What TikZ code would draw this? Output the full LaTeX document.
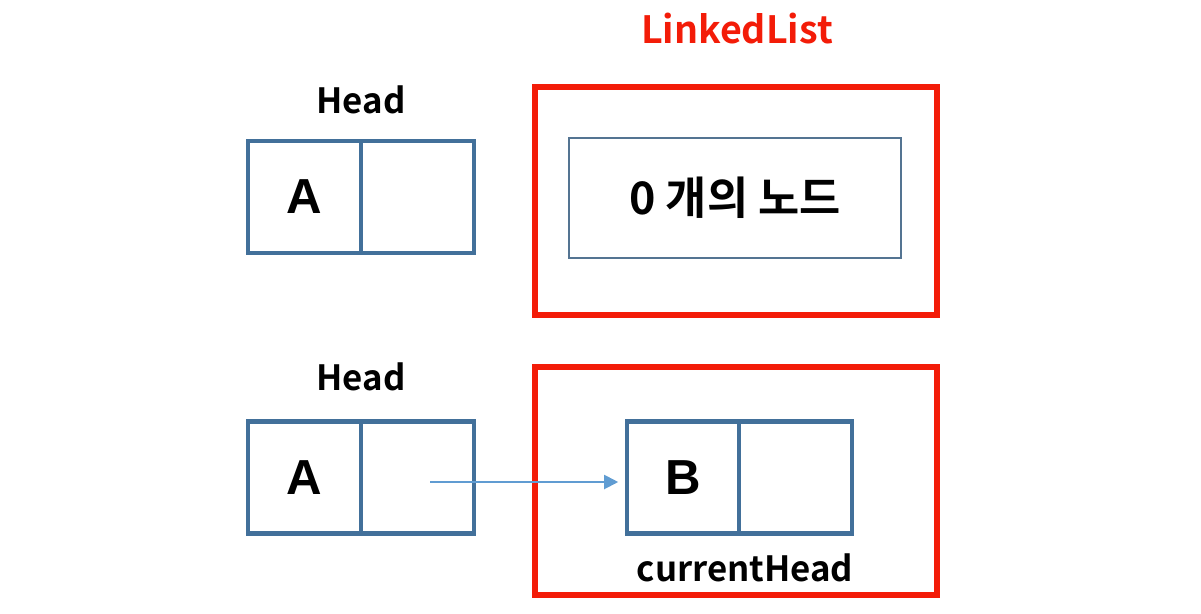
\documentclass[tikz,border=0pt]{standalone}
\usepackage{fontspec}
\setmainfont{Noto Sans CJK KR}[BoldFont={Noto Sans CJK KR Bold}]
\newfontfamily\letterfont{Liberation Sans}
\usetikzlibrary{arrows.meta,positioning}

\definecolor{cellblue}{RGB}{66,112,154}
\definecolor{boxblue}{RGB}{84,116,146}
\definecolor{listred}{RGB}{243,28,8}
\definecolor{ptrblue}{RGB}{96,156,210}

\tikzset{
  cell/.style={draw=cellblue, line width=2.3pt, minimum width=2.26cm, minimum height=2.24cm,
    inner sep=0pt, outer sep=0pt, font=\letterfont\bfseries\fontsize{28}{30}\selectfont},
  listbox/.style={draw=listred, line width=3.4pt, minimum width=8.04cm, minimum height=4.56cm,
    inner sep=0pt, outer sep=0pt},
  label/.style={font=\bfseries\fontsize{19.8}{23}\selectfont},
  pointer/.style={draw=ptrblue, line width=1.1pt, -{Triangle[length=8pt,width=8pt]}, shorten >=5pt}
}

\begin{document}
\begin{tikzpicture}[x=0.02cm, y=-0.02cm]
  \useasboundingbox (0,0) rectangle (1201,613);

  %%%%%%%%%%%%%%%%Empty list%%%%%%%%%%%%%%
  \node[label, text=listred, font=\bfseries\fontsize{21.4}{25}\selectfont] (title) at (737,29) {LinkedList};

  \node[label] (head1) at (361,100) {Head};
  \node[cell] (A1) at (304.5,197) {A};
  \node[cell, right=0pt of A1] (A1next) {};

  \node[listbox] (list1) at (736,201) {};
  \node[draw=boxblue, line width=1.1pt, minimum width=6.64cm, minimum height=2.4cm,
    font=\bfseries\fontsize{25.5}{29}\selectfont] (empty) at (735,198) {0 개의 노드};

  %%%%%%%%%%%%%%%%One node in the list%%%%%%%%%%%%%%
  \node[label] (head2) at (361,377) {Head};
  \node[cell] (A2) at (304.5,477.5) {A};
  \node[cell, right=0pt of A2] (A2next) {};

  \node[listbox] (list2) at (736,481) {};
  \node[cell, minimum width=2.24cm] (B) at (683,477.5) {B};
  \node[cell, right=0pt of B] (Bnext) {};
  \node[label] (current) at (745,568) {currentHead};

  \coordinate (ptr) at (430,482);
  \draw[pointer] (ptr) -- (ptr -| B.west);
\end{tikzpicture}
\end{document}
